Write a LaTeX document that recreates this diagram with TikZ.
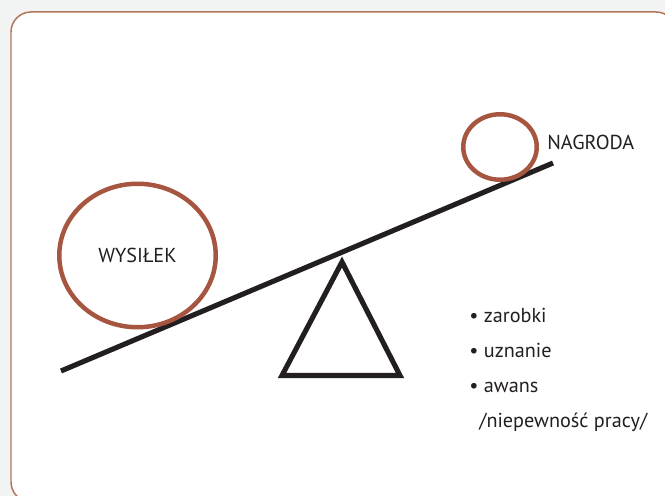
\documentclass[tikz,border=0pt]{standalone}
\usepackage{fontspec}
\setmainfont{PT Sans}
\usetikzlibrary{shapes.geometric}
\definecolor{weight}{RGB}{166,86,64}
\definecolor{frame}{RGB}{176,118,90}
\definecolor{ink}{RGB}{35,31,32}
\definecolor{paper}{RGB}{242,243,243}

\begin{document}
\begin{tikzpicture}[x=0.02cm,y=-0.02cm,
  every node/.style={font=\fontsize{11.5}{13}\selectfont, text=ink},
  load/.style={ellipse, draw=weight, line width=2.55pt, inner sep=0pt},
  item/.style={anchor=base west, inner sep=0pt}]

\fill[paper] (0,0) rectangle (665,496);
\useasboundingbox (0,0) rectangle (665,496);
\filldraw[draw=frame, fill=white, line width=0.85pt, rounded corners=0.4cm] (11,12) rectangle (676,502);

% seesaw
\coordinate (low) at (61,371);
\coordinate (high) at (553,163);
\draw[ink, line width=2.9pt] (low) -- (high);
\coordinate (apex) at (342,262);
\coordinate (baseL) at (282,375.5);
\coordinate (baseR) at (400,375.5);
\draw[ink, line width=2.9pt] (apex) -- (baseL) -- (baseR) -- cycle;

% weights
\node[load, minimum width=3.13cm, minimum height=2.87cm] (effort) at (137.5,255.5) {WYSIŁEK};
\node[load, minimum width=1.47cm, minimum height=1.31cm] (reward) at (500,147) {};
\node[item] (rewardtext) at (547,150) {NAGRODA};

% list
\node[item] (pay) at (469,322) {• zarobki};
\node[item] (praise) at (469,357) {• uznanie};
\node[item] (promo) at (469,392) {• awans};
\node[item] (risk) at (479,427) {/niepewność pracy/};

\end{tikzpicture}
\end{document}
